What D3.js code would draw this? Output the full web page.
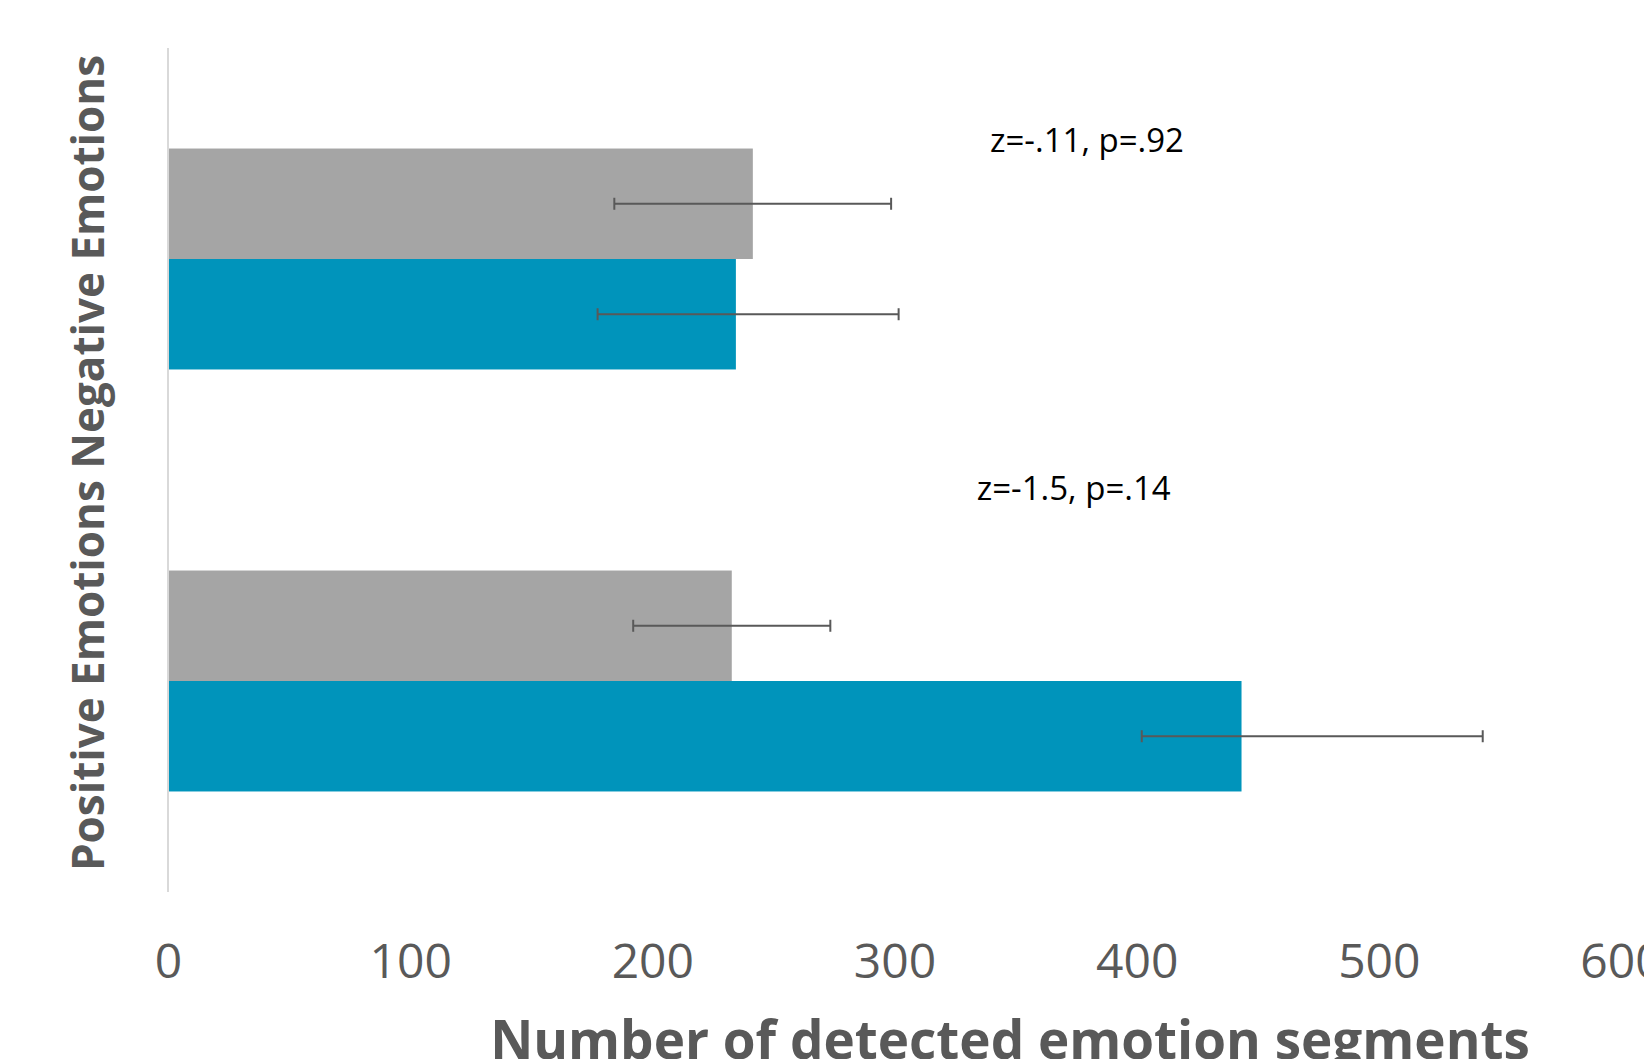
<!DOCTYPE html>
<html>
<head>
<meta charset="utf-8">
<script src="https://cdn.jsdelivr.net/npm/d3@7"></script>
<style>
  html, body { margin: 0; padding: 0; background: #ffffff; overflow: hidden; }
  svg { display: block; }
</style>
</head>
<body>
<svg id="chart" width="1644" height="1059"></svg>
<script>
// ---- data ----
const categories = ["Negative Emotions", "Positive Emotions"];
const seriesNames = ["Series 1", "Series 2"];
const seriesValues = {
  "Series 1": [241.5, 232.8],
  "Series 2": [234.5, 443.3]
};
const errorLow = {
  "Series 1": [184.3, 192.1],
  "Series 2": [177.4, 402.1]
};
const errorHigh = {
  "Series 1": [298.6, 273.5],
  "Series 2": [301.7, 542.9]
};
const xTicks = [0, 100, 200, 300, 400, 500, 600];
const annotations = ["z=-.11, p=.92", "z=-1.5, p=.14"];
const xTitle = "Number of detected emotion segments";
const yTitle = "Positive Emotions Negative Emotions";

// ---- layout ----
const svg = d3.select("#chart");
const plotLeft = 168, plotRight = 1621, plotTop = 48, plotBottom = 892;
const colors = { "Series 1": "#a5a5a5", "Series 2": "#0094bb" };
const textGray = "#595959";

const x = d3.scaleLinear().domain([0, 600]).range([plotLeft, plotRight]);
const y = d3.scaleBand().domain(categories).range([plotTop, plotBottom]).padding(0);
const ySub = d3.scaleBand().domain(seriesNames).range([0, y.bandwidth()])
  .paddingInner(0).paddingOuter(0.91);

// bars
const rows = [];
categories.forEach((c, i) => {
  seriesNames.forEach(s => {
    rows.push({ cat: c, series: s, value: seriesValues[s][i], lo: errorLow[s][i], hi: errorHigh[s][i] });
  });
});

svg.append("g").selectAll("rect").data(rows).join("rect")
  .attr("x", x(0))
  .attr("y", d => y(d.cat) + ySub(d.series))
  .attr("width", d => x(d.value) - x(0))
  .attr("height", ySub.bandwidth())
  .attr("fill", d => colors[d.series]);

// vertical category axis line
svg.append("line")
  .attr("x1", x(0)).attr("x2", x(0))
  .attr("y1", plotTop).attr("y2", plotBottom)
  .attr("stroke", "#d9d9d9").attr("stroke-width", 2);

// error bars
const eb = svg.append("g").attr("stroke", "#595959").attr("stroke-width", 2).attr("fill", "none");
rows.forEach(d => {
  const cy = y(d.cat) + ySub(d.series) + ySub.bandwidth() / 2;
  eb.append("line").attr("x1", x(d.lo)).attr("x2", x(d.hi)).attr("y1", cy).attr("y2", cy);
  eb.append("line").attr("x1", x(d.lo)).attr("x2", x(d.lo)).attr("y1", cy - 6).attr("y2", cy + 6);
  eb.append("line").attr("x1", x(d.hi)).attr("x2", x(d.hi)).attr("y1", cy - 6).attr("y2", cy + 6);
});

// x axis tick labels
const xAxis = d3.axisBottom(x).tickValues(xTicks).tickSize(0).tickFormat(d3.format("d"));
const gx = svg.append("g").attr("transform", "translate(0,978)").call(xAxis);
gx.select(".domain").remove();
gx.selectAll("text")
  .attr("y", 0).attr("dy", 0)
  .attr("font-family", "'Open Sans', sans-serif")
  .attr("font-size", 48)
  .attr("fill", textGray);

// x axis title
svg.append("text")
  .attr("x", 1010).attr("y", 1059)
  .attr("text-anchor", "middle")
  .attr("font-family", "'Open Sans', sans-serif")
  .attr("font-weight", "bold")
  .attr("font-size", 53)
  .attr("fill", textGray)
  .text(xTitle);

// y axis title
svg.append("text")
  .attr("transform", "translate(104,463) rotate(-90)")
  .attr("text-anchor", "middle")
  .attr("font-family", "'Open Sans', sans-serif")
  .attr("font-weight", "bold")
  .attr("font-size", 44)
  .attr("fill", textGray)
  .text(yTitle);

// annotations
const annPos = [{ v: 379.5, yy: 152 }, { v: 374, yy: 500 }];
annotations.forEach((t, i) => {
  svg.append("text")
    .attr("x", x(annPos[i].v)).attr("y", annPos[i].yy)
    .attr("text-anchor", "middle")
    .attr("font-family", "'Open Sans', sans-serif")
    .attr("font-size", 33)
    .attr("fill", "#000000")
    .text(t);
});
</script>
</body>
</html>
